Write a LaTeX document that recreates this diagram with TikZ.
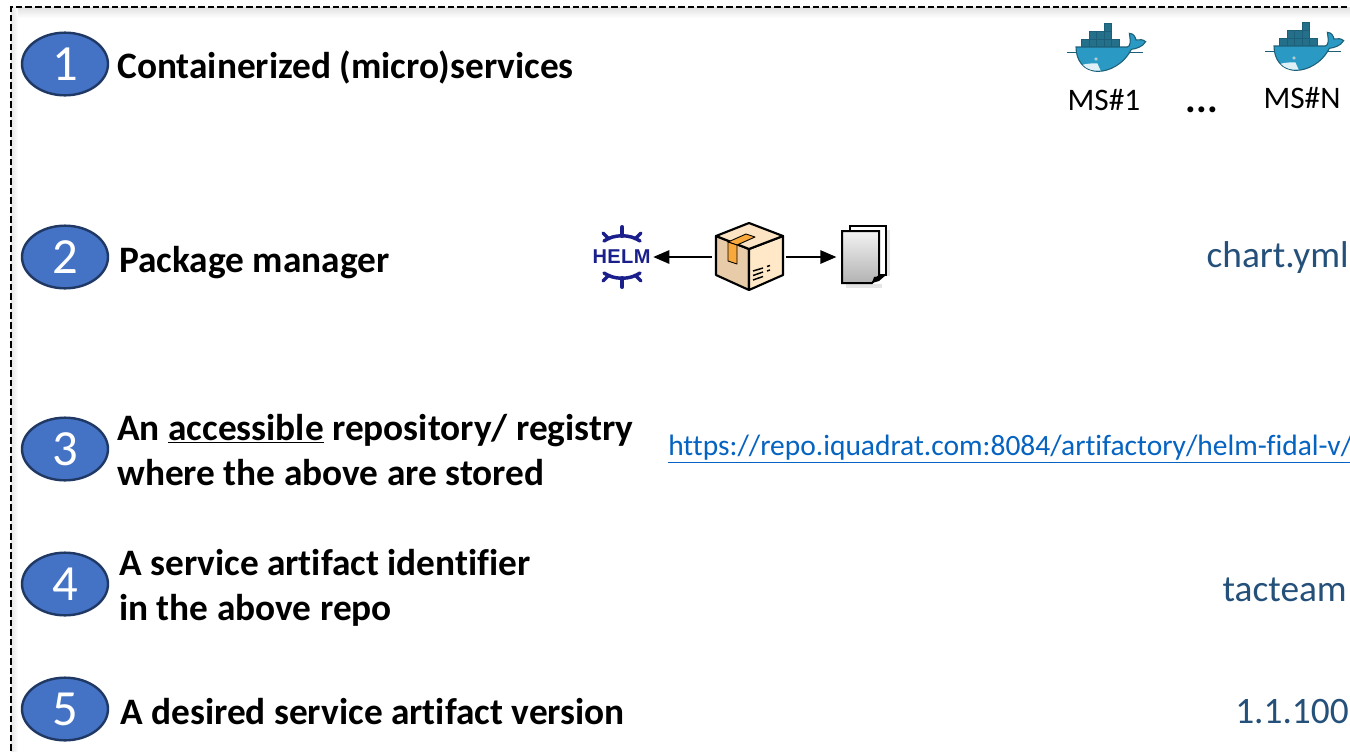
\documentclass[tikz,border=0pt]{standalone}
\usepackage{fontspec}
\setmainfont[Ligatures=NoCommon]{Carlito}
\newfontfamily\helmfont{Liberation Sans}
\usetikzlibrary{arrows.meta,shadings,shapes.geometric}
\definecolor{numfill}{HTML}{4472C4}
\definecolor{numline}{HTML}{1F3864}
\definecolor{valcol}{HTML}{24507A}
\definecolor{linkcol}{HTML}{0563C1}
\definecolor{helmcol}{HTML}{1A1F8C}
\definecolor{whalecol}{HTML}{2A9AC4}
\definecolor{whaledark}{HTML}{1D5F78}
\definecolor{crate}{HTML}{24708A}
\definecolor{boxleft}{HTML}{E8CBA8}
\definecolor{boxright}{HTML}{FFE8C8}
\definecolor{boxtop}{HTML}{FBE3C3}
\definecolor{boxtape}{HTML}{F9A83C}
\tikzset{
  num/.style={ellipse,draw=numline,line width=1.8pt,fill=numfill,minimum width=64.5pt,minimum height=47pt,inner sep=0pt,text=white,font=\fontsize{38}{38}\selectfont},
  label/.style={anchor=west,align=left,inner sep=0pt,font=\fontsize{28}{33.75}\selectfont\bfseries},
  val/.style={anchor=east,inner sep=0pt,text=valcol,font=\fontsize{28}{30}\selectfont},
  ms/.style={inner sep=0pt,font=\fontsize{23.5}{24}\selectfont},
  icon/.style={inner sep=0pt,draw=none},
  arr/.style={-{Triangle[length=12pt,width=10pt]},line width=1.3pt},
  whale/.pic={
    \begin{scope}[x=.25pt,y=-.25pt]
      \foreach \xx/\yy in {125/118,147/118,170/118,192/118,214/118,147/94,170/94,192/94,192/70}
        \fill[crate,draw=whaledark,line width=.5pt] (\xx,\yy) rectangle ++(23,23);
      \draw[whaledark,line width=.6pt] (82,156) -- (310,156);
      \fill[whalecol,draw=whaledark,line width=.8pt] (108,141) -- (262,141)
        .. controls (272,138) and (272,125) .. (268,100)
        .. controls (280,100) and (286,110) .. (288,120)
        .. controls (298,118) and (310,118) .. (317,125)
        .. controls (308,140) and (290,146) .. (274,148)
        .. controls (250,195) and (205,214) .. (175,214)
        .. controls (130,214) and (108,180) .. (108,141) -- cycle;
      \fill[white!85!whalecol] (128,194) .. controls (145,190) and (160,190) .. (172,190) -- (182,212) .. controls (160,214) and (140,208) .. (128,194) -- cycle;
      \fill[white] (168,177) circle (5);
      \fill[black] (168,177) circle (2);
    \end{scope}
  }
}
\begin{document}
\begin{tikzpicture}[x=.75pt,y=-.75pt]
\useasboundingbox (0,0) rectangle (1350,751);
\fill[white] (0,0) rectangle (1350,751);
\shade[top color=black!12,bottom color=white,draw=none] (11,7) rectangle (1350,18);
\shade[left color=black!10,right color=white,draw=none] (11,7) rectangle (18,751);
\coordinate (bl) at (11,751);
\coordinate (tl) at (11,7);
\coordinate (tr) at (1350,7);
\draw[line width=1.6pt,dash pattern=on 5pt off 2.2pt] (bl) -- (tl) -- (tr);

\node[num] (n1) at (65,64) {1};
\node[num] (n2) at (65,257) {2};
\node[num] (n3) at (65,449) {3};
\node[num] (n4) at (65,584) {4};
\node[num] (n5) at (65,709) {5};

\node[label] (t1) at (117,67) {Containerized (micro)services};
\node[label] (t2) at (119,263) {Package manager};
\node[label] (t3) at (117,450) {An \underline{accessible} repository/ registry\\where the above are stored};
\node[label] (t4) at (119,588) {A service artifact identifier\\in the above repo};
\node[label] (t5) at (120,712) {A desired service artifact version};

\pic at (1040,0) {whale};
\pic at (1238,-1) {whale};
\node[ms] (m1) at (1104,100) {MS\#1};
\node[ms] (m2) at (1302,98) {MS\#N};
\node[inner sep=0pt,font=\fontsize{30}{30}\selectfont\bfseries] (dots) at (1202,110) {...};

\node[val] (v2) at (1349,258) {chart.yml};
\node[val] (v4) at (1347,590) {tacteam};
\node[val] (v5) at (1349,712) {1.1.100};
\begin{scope}
\clip (660,420) rectangle (1350,480);
\node[anchor=west,inner sep=0pt,text=linkcol,font=\fontsize{22.1}{24}\selectfont] (url) at (668,449) {\underline{https://repo.iquadrat.com:8084/artifactory/helm-fidal-v/}};
\end{scope}

% icon anchors
\node[icon,minimum width=46.5pt,minimum height=52pt] (helm) at (622,257) {};
\node[icon,minimum width=55pt,minimum height=54pt] (box) at (749,257) {};
\node[icon,minimum width=35pt,minimum height=46pt] (docs) at (860,257) {};

% helm
\node[inner sep=0pt,text=helmcol,font=\helmfont\fontsize{15}{16}\selectfont\bfseries\addfontfeatures{LetterSpace=2}] (helmword) at (621.5,257) {HELM};
\begin{scope}[helmcol,line width=2.6pt,line cap=round]
  \draw (604,241) .. controls (614,234) and (630,234) .. (640,241);
  \draw (604,273) .. controls (614,280) and (630,280) .. (640,273);
  \draw[line width=3pt] (622.3,227) -- (622.3,236);
  \draw[line width=3pt] (622.3,278) -- (622.3,287);
  \draw (603,233) -- (609,239);
  \draw (641,233) -- (635,239);
  \draw (603,281) -- (609,275);
  \draw (641,281) -- (635,275);
\end{scope}

% package
\begin{scope}[line width=1.6pt,line join=round]
  \fill[boxleft,draw=black] (716,236) -- (749,249) -- (749,290) -- (716,275) -- cycle;
  \fill[boxright,draw=black] (749,249) -- (783,236) -- (783,275) -- (749,290) -- cycle;
  \fill[boxtop,draw=black] (716,236) -- (749,223) -- (783,236) -- (749,249) -- cycle;
  \fill[boxtape,draw=black,line width=.7pt] (728,242) -- (737,245) -- (755,237) -- (746,234) -- cycle;
  \fill[boxtape,draw=black,line width=.7pt] (728,242) -- (737,245) -- (737,264) -- (728,261) -- cycle;
  \draw[line width=1.1pt] (753,271) -- (763,268) (753,275.5) -- (763,272) (753,280) -- (763,276.5) (767,266.5) -- (770,265.5) (767,271) -- (770,270);
\end{scope}

% documents
\fill[black!10] (846,284) rectangle (882,288);
\fill[black!10] (886,230) rectangle (890,276);
\draw[fill=white,line width=1.2pt] (850,226) rectangle (886,275);
\shade[top color=black!5,bottom color=black!30,draw=black,line width=1.5pt] (842,231) -- (879,231) -- (879,276) -- (872,283) -- (842,283) -- cycle;
\fill[black] (872,283) -- (874,277) -- (886,275) -- (879,281) -- cycle;

\draw[arr] (box.west) -- (helm.east);
\draw[arr] (box.east) -- (docs.west);
\end{tikzpicture}
\end{document}
